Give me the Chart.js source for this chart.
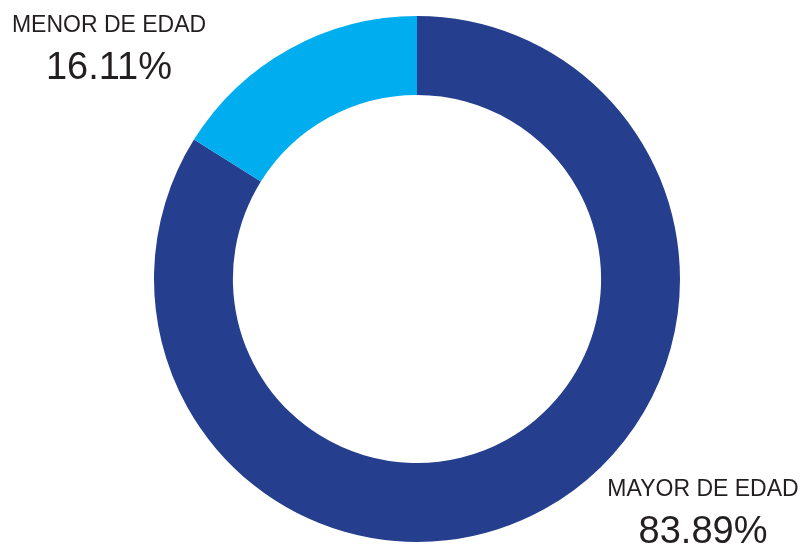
<!DOCTYPE html>
<html>
<head>
<meta charset="utf-8">
<script src="https://cdn.jsdelivr.net/npm/chart.js@4"></script>
<style>
  html, body { margin: 0; padding: 0; background: #fff; }
  #wrap { width: 800px; height: 546px; position: relative; }
</style>
</head>
<body>
<div id="wrap"><canvas id="edadChart" width="800" height="546"></canvas></div>
<script>
// Data
const categories = ['MAYOR DE EDAD', 'MENOR DE EDAD'];
const percentages = [83.89, 16.11];
const sliceColors = ['#253e8d', '#00adef'];

// Where each label block sits (centre x, baseline of title, baseline of value)
const labelSpots = [
    { x: 703, titleY: 496, valueY: 543 },
    { x: 109, titleY: 32, valueY: 79 }
];

// Draw category name and percentage next to each slice
const outsideLabels = {
    id: 'outsideLabels',
    afterDraw(chart) {
        const ctx = chart.ctx;
        ctx.save();
        ctx.fillStyle = '#231f20';
        ctx.textAlign = 'center';
        ctx.textBaseline = 'alphabetic';
        categories.forEach(function (name, i) {
            const spot = labelSpots[i];
            ctx.font = '23px "Liberation Sans", Arial, sans-serif';
            ctx.fillText(name, spot.x, spot.titleY);
            ctx.font = '38px "Liberation Sans", Arial, sans-serif';
            ctx.fillText(percentages[i].toFixed(2) + '%', spot.x, spot.valueY);
        });
        ctx.restore();
    }
};

const ctx = document.getElementById('edadChart').getContext('2d');
const edadChart = new Chart(ctx, {
    type: 'doughnut',
    data: {
        labels: categories,
        datasets: [{
            data: percentages,
            backgroundColor: sliceColors,
            borderWidth: 0
        }]
    },
    options: {
        responsive: false,
        animation: false,
        cutout: '70%',
        layout: {
            padding: { top: 16, bottom: 4, left: 34, right: 0 }
        },
        plugins: {
            legend: { display: false },
            tooltip: { enabled: false }
        }
    },
    plugins: [outsideLabels]
});
</script>
</body>
</html>
